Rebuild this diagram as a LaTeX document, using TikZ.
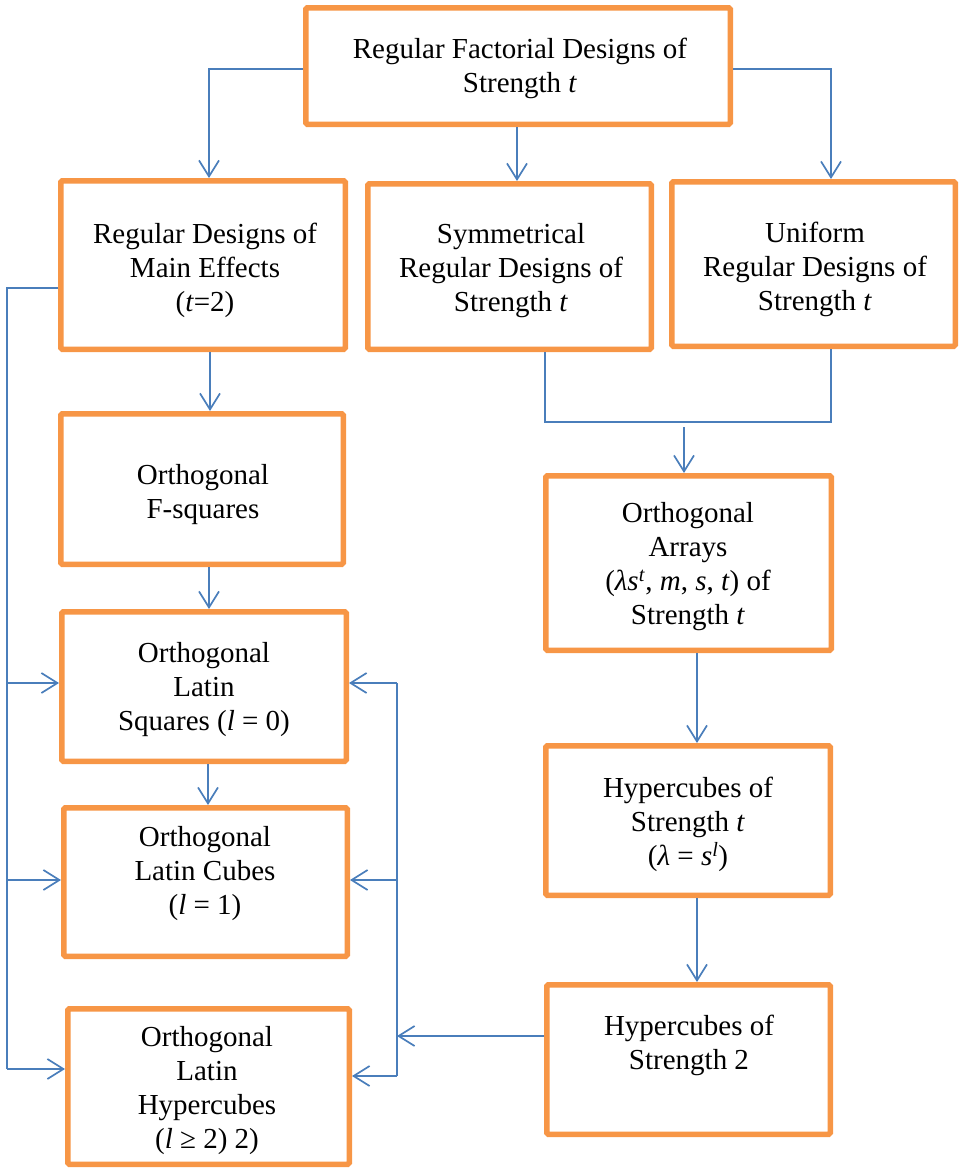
\documentclass[tikz,border=0pt]{standalone}
\usepackage{fontspec}
\setmainfont{Liberation Serif}
\usetikzlibrary{arrows.meta}
\definecolor{boxorange}{RGB}{247,150,70}
\definecolor{linkblue}{RGB}{74,126,187}
\begin{document}
\begin{tikzpicture}[x=1pt,y=-1pt,
  box/.style={draw=boxorange, line width=5.5pt, fill=white, rounded corners=1.5pt, inner sep=0pt},
  txt/.style={align=center, inner sep=0pt, font=\fontsize{29}{34}\selectfont},
  link/.style={draw=linkblue, line width=1.7pt},
  arr/.style={link, -{Straight Barb[length=16pt,width=20pt,line width=1.7pt]}},
]
\useasboundingbox (0,0) rectangle (960,1168);

% boxes (outer size minus border width)
\node[box, minimum width=424.5pt, minimum height=116.5pt] (T) at (518,66) {};
\node[box, minimum width=284.5pt, minimum height=168.5pt] (A) at (203,265) {};
\node[box, minimum width=283.5pt, minimum height=165.5pt] (B) at (509.5,266.5) {};
\node[box, minimum width=283.5pt, minimum height=164.5pt] (C) at (813.5,264) {};
\node[box, minimum width=282.5pt, minimum height=150.5pt] (D) at (202,489) {};
\node[box, minimum width=284.5pt, minimum height=149.5pt] (E) at (204,686.5) {};
\node[box, minimum width=283.5pt, minimum height=148.5pt] (F) at (205.5,882) {};
\node[box, minimum width=281.5pt, minimum height=155.5pt] (G) at (208.5,1086.5) {};
\node[box, minimum width=285.5pt, minimum height=174.5pt] (H) at (688.5,563) {};
\node[box, minimum width=284.5pt, minimum height=149.5pt] (I) at (688,820.5) {};
\node[box, minimum width=283.5pt, minimum height=149.5pt] (J) at (688.5,1059.5) {};

% texts
\node[txt] (Tt) at (520,68) {Regular Factorial Designs of\\Strength \textit{t}};
\node[txt] (At) at (205,270) {Regular Designs of\\Main Effects\\(\textit{t}=2)};
\node[txt] (Bt) at (511,271) {Symmetrical\\Regular Designs of\\Strength \textit{t}};
\node[txt] (Ct) at (815,269) {Uniform\\Regular Designs of\\Strength \textit{t}};
\node[txt] (Dt) at (203,495) {Orthogonal\\F-squares};
\node[txt] (Et) at (204,690) {Orthogonal\\Latin\\Squares (\textit{l} = 0)};
\node[txt] (Ft) at (205,874) {Orthogonal\\Latin Cubes\\(\textit{l} = 1)};
\node[txt] (Gt) at (207,1091) {Orthogonal\\Latin\\Hypercubes\\(\textit{l} ≥ 2) 2)};
\node[txt] (Ht) at (688,567) {Orthogonal\\Arrays\\(\textit{λs}\textsuperscript{\textit{t}}, \textit{m}, \textit{s}, \textit{t}) of\\Strength \textit{t}};
\node[txt] (It) at (688,824) {Hypercubes of\\Strength \textit{t}\\(\textit{λ} = \textit{s}\textsuperscript{\textit{l}})};
\node[txt] (Jt) at (689,1045) {Hypercubes of\\Strength 2};

% coordinates for routing
\coordinate (tl) at (209,69);
\coordinate (tr) at (831,69);
\coordinate (lb) at (7,288);
\coordinate (lbE) at (7,683);
\coordinate (lbF) at (7,880);
\coordinate (lbG) at (7,1069);
\coordinate (bb) at (545,422);
\coordinate (cb) at (831,422);
\coordinate (mj) at (684,427);
\coordinate (rv) at (397,1036);
\coordinate (rvE) at (397,683);
\coordinate (rvF) at (397,880);
\coordinate (rvG) at (397,1076);

% top fan-out
\draw[arr] (T.west |- tl) -- (tl) -- (tl |- A.north);
\draw[arr] (T.south -| 517,0) -- (517,0 |- B.north);
\draw[arr] (T.east |- tr) -- (tr) -- (tr |- C.north);

% left column chain
\draw[arr] (A.south -| 210,0) -- (210,0 |- D.north);
\draw[arr] (D.south -| 209,0) -- (209,0 |- E.north);
\draw[arr] (E.south -| 208,0) -- (208,0 |- F.north);

% left bus from A
\draw[link] (A.west |- lb) -- (lb) -- (lbG);
\draw[arr] (lbE) -- (E.west |- lbE);
\draw[arr] (lbF) -- (F.west |- lbF);
\draw[arr] (lbG) -- (G.west |- lbG);

% merge of B and C
\draw[link] (B.south -| bb) -- (bb) -- (cb) -- (C.south -| cb);
\draw[arr] (mj) -- (mj |- H.north);

% right column chain
\draw[arr] (H.south -| 697,0) -- (697,0 |- I.north);
\draw[arr] (I.south -| 697,0) -- (697,0 |- J.north);

% right bus from J
\draw[arr] (J.west |- rv) -- (rv);
\draw[link] (rvE) -- (rvG);
\draw[arr] (rvE) -- (E.east |- rvE);
\draw[arr] (rvF) -- (F.east |- rvF);
\draw[arr] (rvG) -- (G.east |- rvG);
\end{tikzpicture}
\end{document}
